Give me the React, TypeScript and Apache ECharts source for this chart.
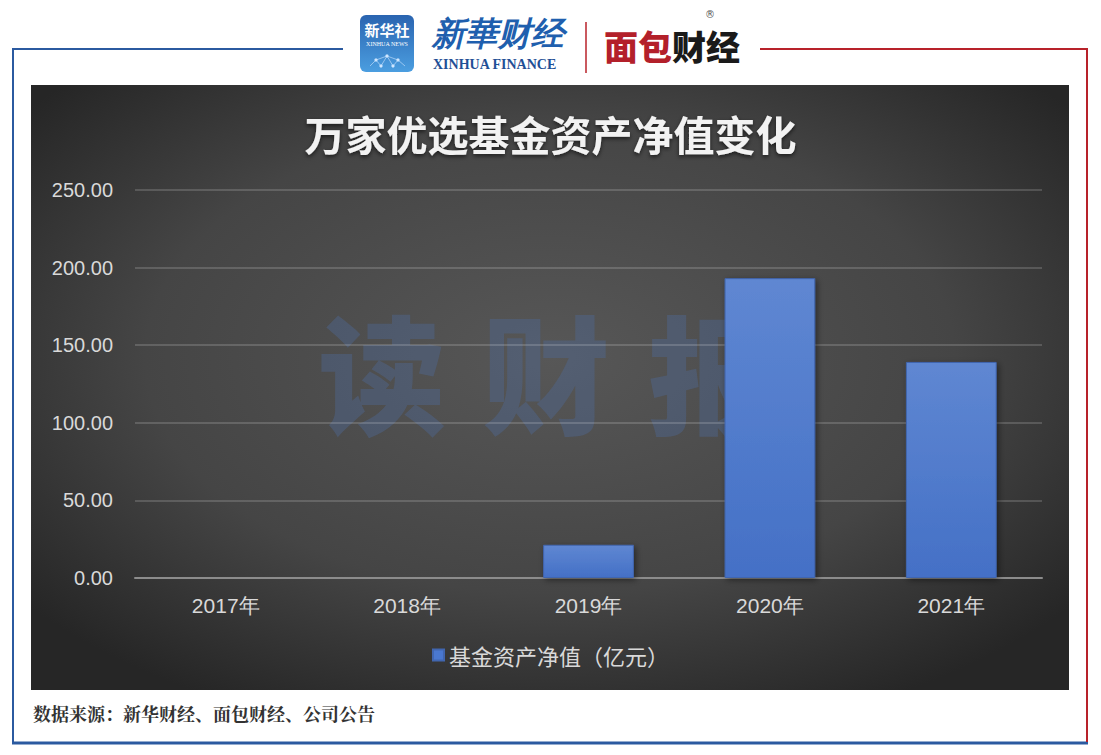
import React, { useEffect, useRef } from "react";
import * as echarts from "echarts";

const categories = ["2017年", "2018年", "2019年", "2020年", "2021年"];
const netAssets = [0.4, 0.4, 21.4, 193.2, 139.2];
const yTicks = [0, 50, 100, 150, 200, 250];
const seriesName = "基金资产净值（亿元）";
const title = "万家优选基金资产净值变化";
const source = "数据来源：新华财经、面包财经、公司公告";

export default function App() {
  const ref = useRef<HTMLDivElement>(null);
  useEffect(() => {
    const chart = echarts.init(ref.current!, null, { renderer: "svg" });
    const cjk = '"Noto Sans CJK SC", "Noto Sans", sans-serif';
    const wm = "rgba(78,106,150,0.42)";
    chart.setOption({
      animation: false,
      backgroundColor: "#ffffff",
      title: {
        text: title,
        left: "center",
        top: 107,
        textStyle: { color: "#f2f2f2", fontSize: 41, fontWeight: "bold", fontFamily: cjk, textShadowColor: "rgba(0,0,0,0.6)", textShadowBlur: 4, textShadowOffsetY: 2 },
      },
      legend: {
        bottom: 84,
        left: "center",
        itemWidth: 11,
        itemHeight: 11,
        itemGap: 6,
        icon: "rect",
        textStyle: { color: "#d9d9d9", fontSize: 22, fontFamily: cjk },
        data: [{ name: seriesName, itemStyle: { color: "#4a78d0" } }],
      },
      grid: { left: 135, right: 59, top: 190, bottom: 177 },
      xAxis: {
        type: "category",
        data: categories,
        axisLine: { lineStyle: { color: "#8c8c8c", width: 2 } },
        axisTick: { show: false },
        axisLabel: { color: "#d9d9d9", fontSize: 21, margin: 17, fontFamily: "Liberation Sans, Arial, sans-serif" },
      },
      yAxis: {
        type: "value",
        min: yTicks[0],
        max: yTicks[yTicks.length - 1],
        interval: 50,
        axisLine: { show: false },
        axisTick: { show: false },
        splitLine: { lineStyle: { color: "rgba(255,255,255,0.16)", width: 2 } },
        axisLabel: { color: "#d9d9d9", fontSize: 20, margin: 22, fontFamily: "Liberation Sans, Arial, sans-serif", formatter: (v: number) => v.toFixed(2) },
      },
      series: [
        {
          name: seriesName,
          type: "bar",
          data: netAssets,
          barWidth: "50%",
          itemStyle: {
            color: new echarts.graphic.LinearGradient(0, 0, 0, 1, [
              { offset: 0, color: "#5f87d2" },
              { offset: 1, color: "#4470c6" },
            ]),
            borderColor: "#4166b0",
            borderWidth: 1,
            shadowColor: "rgba(0,0,0,0.45)",
            shadowBlur: 6,
            shadowOffsetX: 2,
            shadowOffsetY: 2,
          },
        },
      ],
      graphic: [
        {
          type: "rect",
          z: -20,
          silent: true,
          shape: { x: 31, y: 85, width: 1038, height: 605 },
          style: {
            fill: new echarts.graphic.RadialGradient(0.5, 0.45, 0.65, [
              { offset: 0, color: "#575757" },
              { offset: 0.6, color: "#454545" },
              { offset: 1, color: "#262626" },
            ]),
          },
        },
        // watermark
        { type: "text", z: -10, silent: true, x: 318, y: 305, style: { text: "读", fontSize: 128, fontWeight: 900, fontFamily: cjk, fill: wm } },
        { type: "text", z: -10, silent: true, x: 482, y: 305, style: { text: "财", fontSize: 128, fontWeight: 900, fontFamily: cjk, fill: wm } },
        { type: "text", z: -10, silent: true, x: 648, y: 305, style: { text: "报", fontSize: 128, fontWeight: 900, fontFamily: cjk, fill: wm } },
        // frame
        { type: "line", shape: { x1: 12, y1: 49, x2: 343, y2: 49 }, style: { stroke: "#2b5aa0", lineWidth: 2 } },
        { type: "line", shape: { x1: 13, y1: 49, x2: 13, y2: 743 }, style: { stroke: "#2b5aa0", lineWidth: 2 } },
        { type: "line", shape: { x1: 12, y1: 743, x2: 1088, y2: 743 }, style: { stroke: "#2b5aa0", lineWidth: 3 } },
        { type: "line", shape: { x1: 760, y1: 49, x2: 1088, y2: 49 }, style: { stroke: "#b8222a", lineWidth: 2 } },
        { type: "line", shape: { x1: 1087, y1: 49, x2: 1087, y2: 742 }, style: { stroke: "#b8222a", lineWidth: 2 } },
        // Xinhua News logo
        {
          type: "rect",
          shape: { x: 360, y: 15, width: 54, height: 57, r: 6 },
          style: {
            fill: new echarts.graphic.LinearGradient(0, 0, 0, 1, [
              { offset: 0, color: "#2a64b0" },
              { offset: 1, color: "#4b9ee0" },
            ]),
          },
        },
        { type: "text", x: 387, y: 22, style: { text: "新华社", fontSize: 15, fontWeight: "bold", fontFamily: cjk, fill: "#ffffff", align: "center" } },
        { type: "text", x: 387, y: 41, style: { text: "XINHUA NEWS", fontSize: 6, fontFamily: "Liberation Serif, serif", fill: "#ffffff", align: "center" } },
        { type: "circle", shape: { cx: 376, cy: 60, r: 1.6 }, style: { fill: "#cfe6ff" } },
        { type: "circle", shape: { cx: 387, cy: 56, r: 1.6 }, style: { fill: "#cfe6ff" } },
        { type: "circle", shape: { cx: 398, cy: 60, r: 1.6 }, style: { fill: "#cfe6ff" } },
        { type: "circle", shape: { cx: 381, cy: 66, r: 1.6 }, style: { fill: "#cfe6ff" } },
        { type: "circle", shape: { cx: 393, cy: 66, r: 1.6 }, style: { fill: "#cfe6ff" } },
        { type: "polyline", shape: { points: [[370, 66], [376, 60], [387, 56], [398, 60], [405, 66]] }, style: { stroke: "#cfe6ff", lineWidth: 0.6, fill: null } },
        { type: "polyline", shape: { points: [[376, 60], [381, 66], [387, 56], [393, 66], [398, 60]] }, style: { stroke: "#cfe6ff", lineWidth: 0.6, fill: null } },
        // Xinhua Finance
        { type: "text", x: 432, y: 17, style: { text: "新華财经", fontSize: 33, fontWeight: "bold", fontStyle: "italic", fontFamily: '"Liberation Serif", serif', fill: "#1f5fae" } },
        { type: "text", x: 433, y: 57, style: { text: "XINHUA FINANCE", fontSize: 14, fontWeight: "bold", fontFamily: '"Liberation Serif", serif', fill: "#1f4f96" } },
        { type: "line", shape: { x1: 586, y1: 22, x2: 586, y2: 73 }, style: { stroke: "#b8222a", lineWidth: 1.5 } },
        // Mianbao Caijing
        { type: "text", x: 604, y: 28, style: { text: "面包", fontSize: 34, fontWeight: 900, fontFamily: cjk, fill: "#b3202a" } },
        { type: "text", x: 672, y: 28, style: { text: "财经", fontSize: 34, fontWeight: 900, fontFamily: cjk, fill: "#1a1a1a" } },
        { type: "text", x: 705, y: 9, style: { text: "®", fontSize: 10, fontFamily: '"DejaVu Sans", sans-serif', fill: "#555" } },
        // source
        { type: "text", x: 33, y: 704, style: { text: source, fontSize: 18, fontWeight: "bold", fontFamily: '"Noto Serif CJK SC", "Liberation Serif", serif', fill: "#333333" } },
      ],
    });
    return () => chart.dispose();
  }, []);
  return <div ref={ref} style={{ position: "fixed", left: 0, top: 0, width: 1101, height: 755 }} />;
}
